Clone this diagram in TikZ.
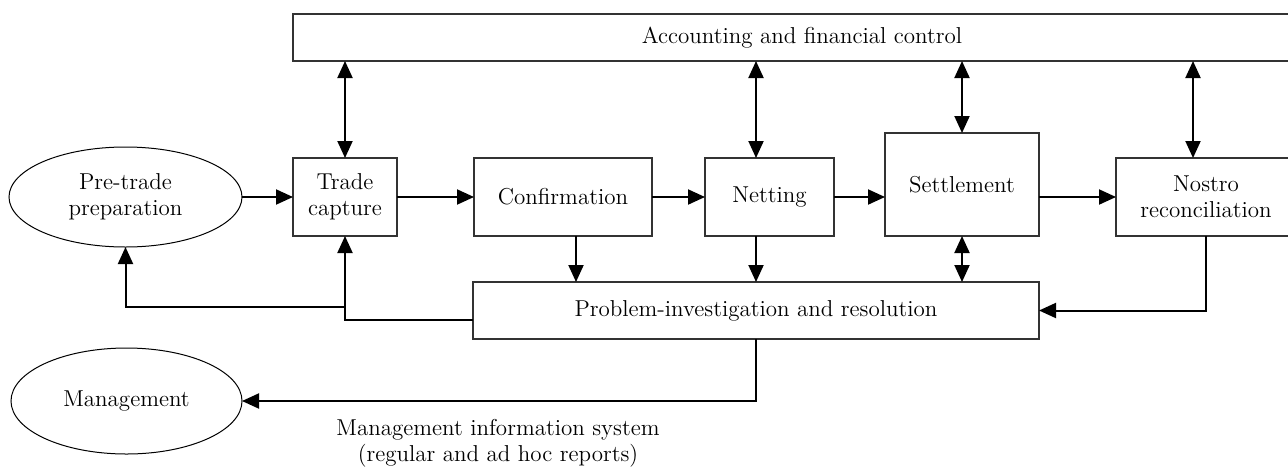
\documentclass[tikz,border=0pt]{standalone}
\usetikzlibrary{arrows.meta, shapes.geometric}
\begin{document}
\begin{tikzpicture}[x=0.5pt, y=-0.5pt, >={Triangle[length=8.5pt, width=7.5pt]},
    line width=1pt, font=\fontsize{11.5}{13}\selectfont,
    procbox/.style={rectangle, draw=black!80, line width=0.8pt, inner sep=0pt, outer sep=0pt, align=center},
    ovalnode/.style={ellipse, draw, line width=0.5pt, inner sep=0pt, outer sep=0pt, align=center}]
    \useasboundingbox (0,0) rectangle (1288,466);
    \clip (0,0) rectangle (1288,466);

    % Top control box
    \node[procbox, minimum width=509pt, minimum height=23.5pt] (acc) at (802, 37.5) {Accounting and financial control};

    % Process chain
    \node[ovalnode, minimum width=116.5pt, minimum height=50pt] (pre) at (125.5, 197) {Pre-trade\\preparation};
    \node[procbox, minimum width=52pt, minimum height=39pt] (trade) at (345, 197) {Trade\\capture};
    \node[procbox, minimum width=89pt, minimum height=39pt] (conf) at (563, 197) {Confirmation};
    \node[procbox, minimum width=64.5pt, minimum height=39pt] (net) at (769.5, 197) {Netting};
    \node[procbox, minimum width=77pt, minimum height=51.5pt] (settle) at (962, 184.5) {Settlement};
    \node[procbox, minimum width=90pt, minimum height=39pt] (nostro) at (1206, 197) {Nostro\\reconciliation};

    % Problem box and management
    \node[procbox, minimum width=283pt, minimum height=28.5pt] (prob) at (756, 310.5) {Problem-investigation and resolution};
    \node[ovalnode, minimum width=115.5pt, minimum height=53pt] (mgmt) at (126.5, 401) {Management};
    \node[align=center] (mis) at (498, 443) {Management information system\\(regular and ad hoc reports)};

    % Edges along the chain
    \draw[->] (pre) -- (trade);
    \draw[->] (trade) -- (conf);
    \draw[->] (conf) -- (net);
    \draw[->] (net.east) -- (settle.west |- net.east);
    \draw[->] (settle.east |- nostro.west) -- (nostro.west);

    % Links to accounting
    \draw[<->] (acc.south -| trade.north) -- (trade.north);
    \draw[<->] (acc.south -| prob.north) -- (net.north -| prob.north);
    \draw[<->] (acc.south -| settle.north) -- (settle.north);
    \draw[<->] ([xshift=-6.5pt]acc.south -| nostro.north) -- ([xshift=-6.5pt]nostro.north);

    % Links to problem-investigation
    \draw[->] ([xshift=6.5pt]conf.south) -- ([xshift=6.5pt]conf.south |- prob.north);
    \draw[->] (net.south -| prob.north) -- (prob.north);
    \draw[<->] (settle.south) -- (settle.south |- prob.north);
    \draw[->] (nostro.south) |- (prob.east);

    % Feedback and reporting
    \coordinate (split) at (345, 307);
    \draw[->] ([yshift=-4.75pt]prob.west) -| (trade.south);
    \draw[->] (split) -| (pre.south);
    \draw[->] (prob.south) |- (mgmt.east);
\end{tikzpicture}
\end{document}
